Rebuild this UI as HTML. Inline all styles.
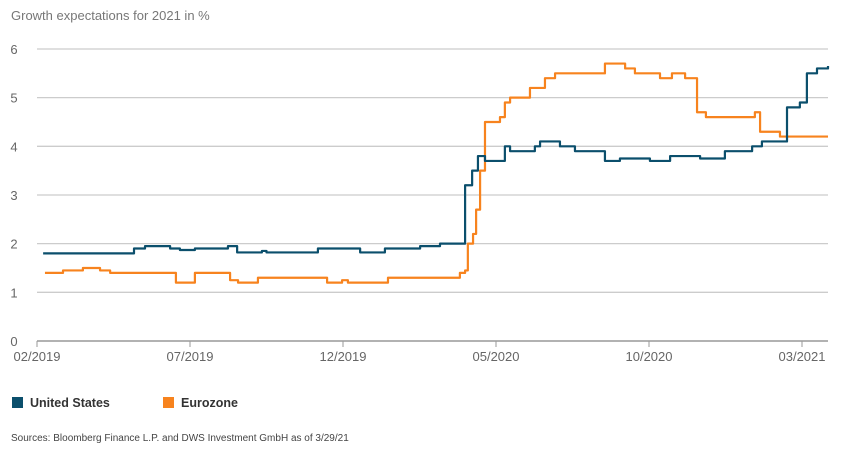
<!DOCTYPE html>
<html><head><meta charset="utf-8"><style>
body{margin:0;background:#fff;font-family:"Liberation Sans",sans-serif;}
svg{display:block}
</style></head><body>
<svg width="843" height="455" id="c">
<text x="11" y="20" font-size="13" fill="#777">Growth expectations for 2021 in %</text>
<g id="grid"></g><g id="series"></g>
<g>
<rect x="12" y="397" width="11" height="11" fill="#0b4f6c"/>
<text x="30" y="407" font-size="12.5" font-weight="bold" fill="#333">United States</text>
<rect x="163" y="397" width="11" height="11" fill="#f7831e"/>
<text x="181" y="407" font-size="12.5" font-weight="bold" fill="#333">Eurozone</text>
</g>
<text x="11" y="441" font-size="10" fill="#444">Sources: Bloomberg Finance L.P. and DWS Investment GmbH as of 3/29/21</text>
</svg>
<script>
const yTicks=[0,1,2,3,4,5,6];
const xTickLabels=["02/2019","07/2019","12/2019","05/2020","10/2020","03/2021"];
const xTickMonths=[0,5,10,15,20,25];
const usMonths=[0.2,3.17,3.53,4.35,4.67,5.16,6.24,6.54,7.35,7.5,9.18,10.56,11.37,12.52,13.17,13.99,14.22,14.41,14.64,15.29,15.46,15.65,16.27,16.44,17.09,17.58,18.56,19.05,20.03,20.69,21.67,22.48,23.37,23.69,24.51,24.93,25.16,25.49,25.85];
const usValues=[1.8,1.9,1.95,1.9,1.87,1.9,1.95,1.82,1.85,1.82,1.9,1.82,1.9,1.95,2.0,3.2,3.5,3.8,3.7,4.0,3.9,3.9,4.0,4.1,4.0,3.9,3.7,3.75,3.7,3.8,3.75,3.9,4.0,4.1,4.8,4.9,5.5,5.6,5.65];
const ezMonths=[0.26,0.85,1.5,2.06,2.39,4.54,5.16,6.31,6.57,7.22,9.48,9.97,10.16,11.47,13.82,13.99,14.08,14.25,14.35,14.48,14.64,15.13,15.29,15.46,16.11,16.6,16.93,18.56,19.22,19.54,20.36,20.75,21.18,21.57,21.86,23.46,23.63,24.28,25.85];
const ezValues=[1.4,1.45,1.5,1.45,1.4,1.2,1.4,1.25,1.2,1.3,1.2,1.25,1.2,1.3,1.4,1.45,2.0,2.2,2.7,3.5,4.5,4.6,4.9,5.0,5.2,5.4,5.5,5.7,5.6,5.5,5.4,5.5,5.4,4.7,4.6,4.7,4.3,4.2,4.2];
const NS="http://www.w3.org/2000/svg";
const X=m=>37+m*30.6, Y=v=>341-v*48.67;
const grid=document.getElementById('grid'), ser=document.getElementById('series');
function mk(tag,attrs,parent){const e=document.createElementNS(NS,tag);for(const k in attrs)e.setAttribute(k,attrs[k]);parent.appendChild(e);return e;}
yTicks.forEach(v=>{
 const l=mk('line',{x1:37,x2:828,y1:Y(v),y2:Y(v),stroke:v===0?'#999':'#ccc','stroke-width':v===0?1.5:1.3},grid);
 
 
 const t=mk('text',{x:14,y:Y(v)+5,'font-size':13,fill:'#666','text-anchor':'middle'},grid);t.textContent=v;
 
 
});
xTickMonths.forEach((m,i)=>{
 const l=mk('line',{x1:X(m),x2:X(m),y1:341,y2:347,stroke:'#999','stroke-width':1},grid);
 
 
 const t=mk('text',{x:X(m),y:361,'font-size':13,fill:'#666','text-anchor':'middle'},grid);t.textContent=xTickLabels[i];
 
 
});
function stepPath(ms,vs){let d='M'+X(ms[0])+','+Y(vs[0]);for(let i=1;i<ms.length;i++){d+=' L'+X(ms[i])+','+Y(vs[i-1])+' L'+X(ms[i])+','+Y(vs[i]);}return d;}
const pe=mk('path',{d:stepPath(ezMonths,ezValues),fill:'none',stroke:'#f7831e','stroke-width':2.2,'stroke-linejoin':'round'},ser);


const pu=mk('path',{d:stepPath(usMonths,usValues),fill:'none',stroke:'#0b4f6c','stroke-width':2.2,'stroke-linejoin':'round'},ser);


</script>
</body></html>
